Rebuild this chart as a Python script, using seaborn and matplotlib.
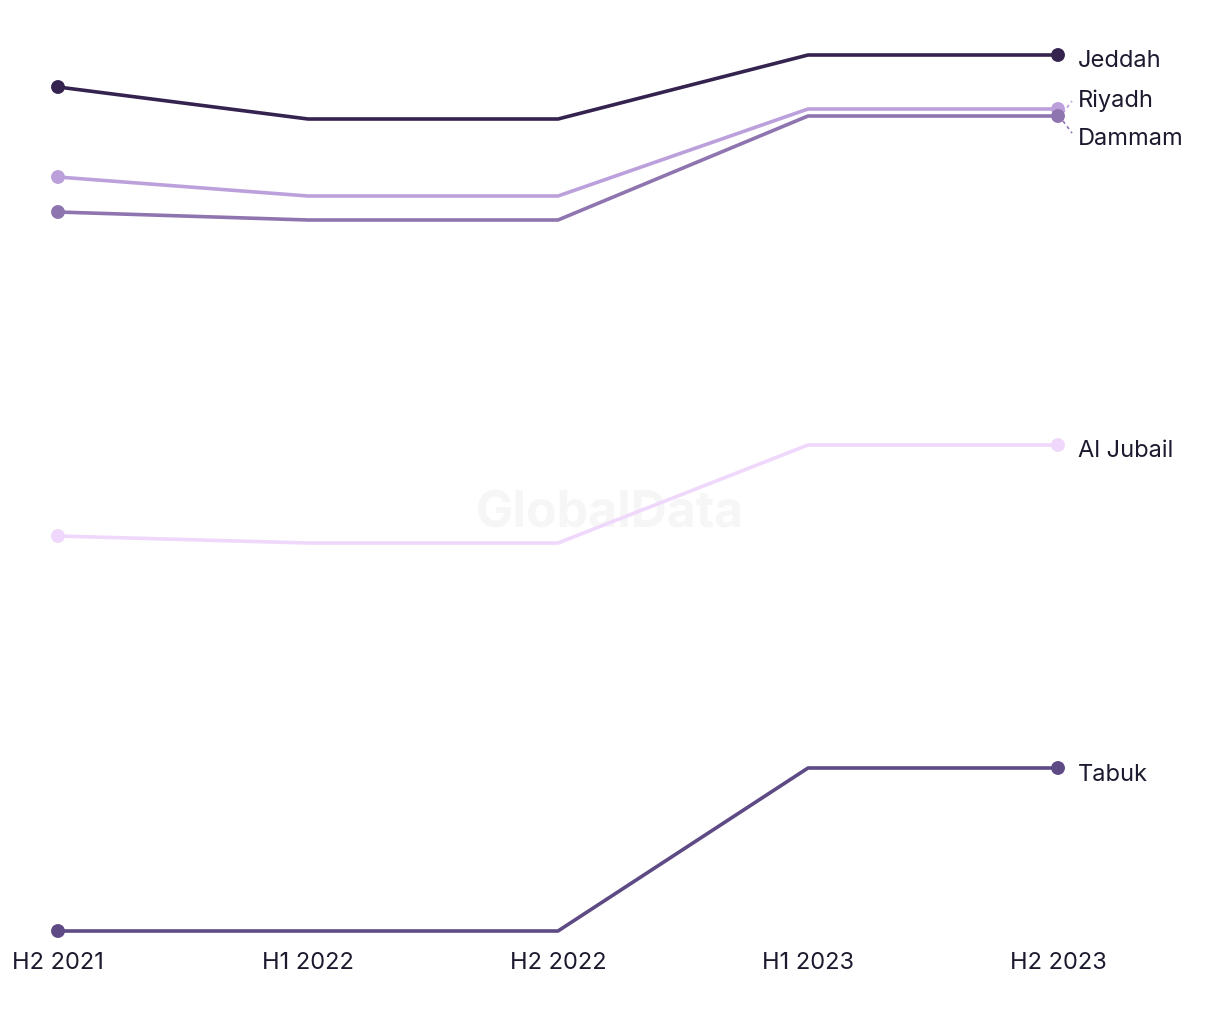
import matplotlib
matplotlib.use("Agg")
import matplotlib.pyplot as plt
import seaborn as sns
import pandas as pd

periods = ["H2 2021", "H1 2022", "H2 2022", "H1 2023", "H2 2023"]
cities = ["Jeddah", "Riyadh", "Dammam", "Al Jubail", "Tabuk"]
jeddah = [914, 882, 882, 946, 946]
riyadh = [824, 805, 805, 892, 892]
dammam = [789, 781, 781, 885, 885]
al_jubail = [465, 458, 458, 556, 556]
tabuk = [70, 70, 70, 233, 233]
colors = ["#35234f", "#bca0dc", "#8f75b0", "#efd8fb", "#5e4a84"]

series = [jeddah, riyadh, dammam, al_jubail, tabuk]
rows = []
for c, vals in zip(cities, series):
    for i, (p, v) in enumerate(zip(periods, vals)):
        rows.append({"city": c, "idx": i, "period": p, "value": v})
df = pd.DataFrame(rows)

sns.set_theme(style="white")
plt.rcParams["font.family"] = ["Inter", "DejaVu Sans"]

fig = plt.figure(figsize=(12.2, 10.2), dpi=100)
ax = fig.add_axes([0, 0, 1, 1])
palette = dict(zip(cities, colors))

ax.text(610, 1020 - 514, "GlobalData", transform=None, ha="center", va="center",
        fontsize=36, fontweight="bold", color="#f6f6f6", zorder=0)

sns.lineplot(data=df, x="idx", y="value", hue="city", palette=palette,
             linewidth=2.6, legend=False, ax=ax, zorder=2)
ends = df[df["idx"].isin([0, len(periods) - 1])]
sns.scatterplot(data=ends, x="idx", y="value", hue="city", palette=palette,
                s=100, edgecolor="none", legend=False, ax=ax, zorder=3)

ax.set_xlim(-58 / 250, (1220 - 58) / 250)
ax.set_ylim(-18, 1002)

last = len(periods) - 1
label_offsets = {"Jeddah": 5, "Riyadh": -9, "Dammam": 22, "Al Jubail": 5, "Tabuk": 6}
for c, vals in zip(cities, series):
    yv = vals[last] - label_offsets[c]
    ax.text(last + 20 / 250, yv, c, ha="left", va="center", fontsize=17, color="#1c1a2e")
# connectors for Riyadh and Dammam
ax.plot([last + 5 / 250, last + 14 / 250], [riyadh[last] - 4, riyadh[last] + 8],
        ls=(0, (2, 2)), color=colors[1], lw=1.2)
ax.plot([last + 5 / 250, last + 14 / 250], [dammam[last] - 5, dammam[last] - 17],
        ls=(0, (2, 2)), color=colors[2], lw=1.2)

for i, p in enumerate(periods):
    ax.text(i, 1002 - 963, p, ha="center", va="center", fontsize=17, color="#1c1a2e")

ax.set_axis_off()
fig.savefig("out.png", dpi=100)
